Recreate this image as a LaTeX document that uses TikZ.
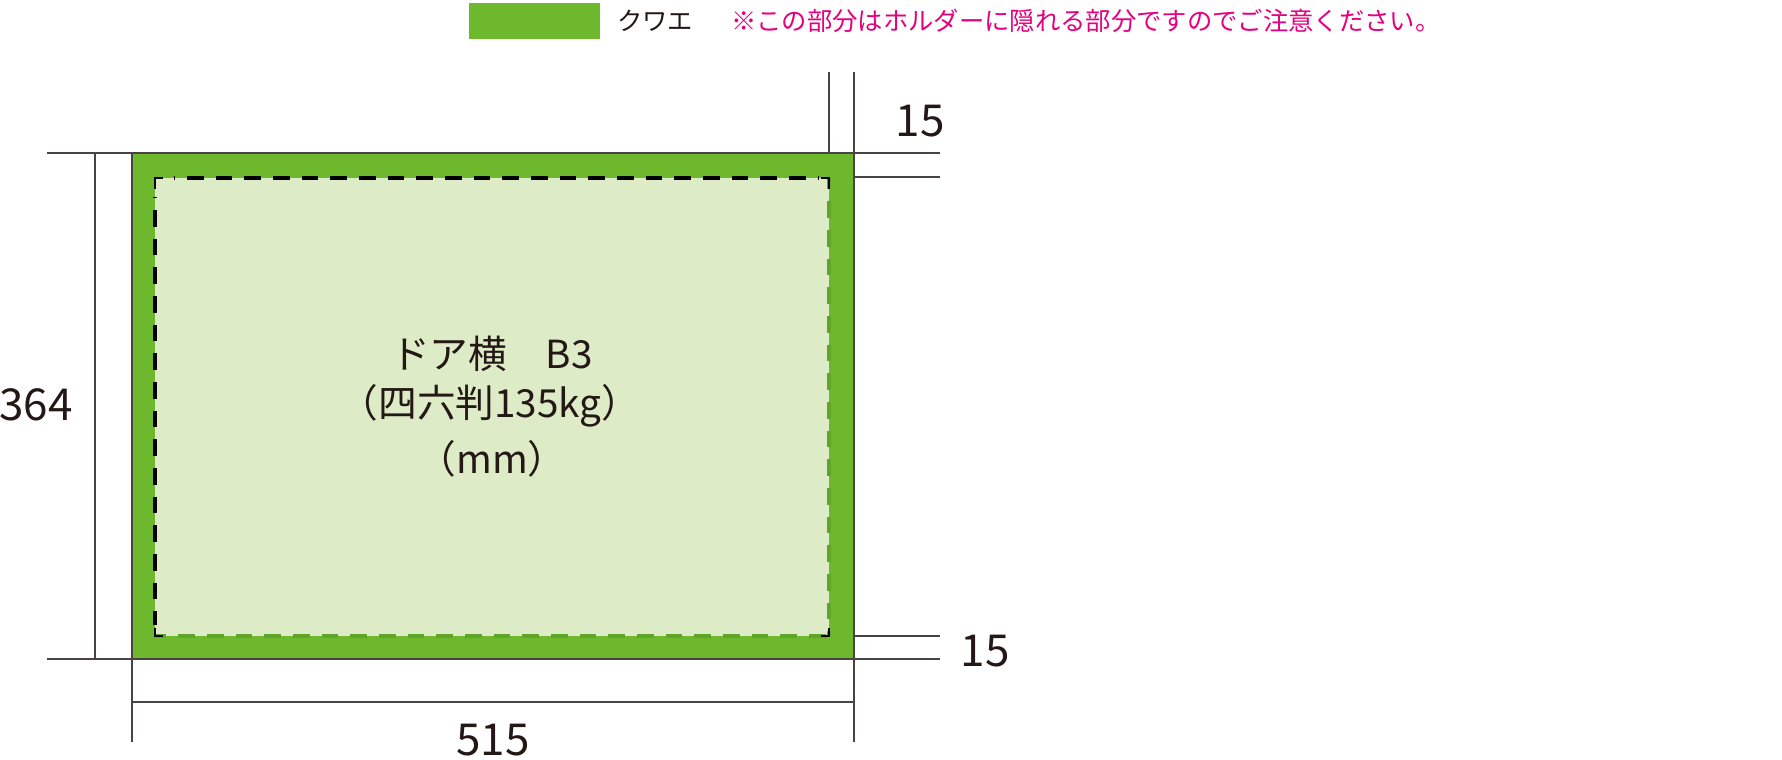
\documentclass[tikz,border=0pt]{standalone}
\usepackage{fontspec}
\setmainfont{Noto Sans CJK JP}
\definecolor{kgreen}{HTML}{6DB82D}
\definecolor{lgreen}{HTML}{DDEBC6}
\definecolor{dgreen}{HTML}{5FA52A}
\definecolor{ink}{HTML}{231815}
\definecolor{lin}{HTML}{4A4344}
\definecolor{pink}{HTML}{E4007F}
\tikzset{
  dimline/.style={draw=lin, line width=1.5pt},
  dimtxt/.style={text=ink, font=\fontsize{33}{33}\selectfont, inner sep=0pt},
  midtxt/.style={text=ink, font=\fontsize{29}{29}\selectfont, inner sep=0pt},
  legtxt/.style={font=\fontsize{19}{19}\selectfont, inner sep=0pt, anchor=west},
  blackdash/.style={draw=black, line width=3.6pt, dash pattern=on 12.5pt off 9pt},
  greendash/.style={draw=dgreen, line width=3pt, dash pattern=on 12.5pt off 9pt},
  cornermark/.style={draw=black, line width=1.6pt}
}
\begin{document}
\begin{tikzpicture}[x=0.75pt, y=-0.75pt]
\useasboundingbox (0,0) rectangle (1782,760);
% legend
\node[fill=kgreen, minimum width=98pt, minimum height=27pt, inner sep=0pt, anchor=north west] (leg) at (469,3) {};
\node[legtxt, text=ink] (legk) at (617,21) {クワエ};
\node[legtxt, text=pink] (note) at (731,21) {※この部分はホルダーに隠れる部分ですのでご注意ください。};
% paper
\coordinate (TL) at (132,153);
\coordinate (BR) at (854,659);
\fill[kgreen] (TL) rectangle (BR);
\coordinate (iTL) at (155,178);
\coordinate (iTR) at (829,178);
\coordinate (iBL) at (155,636);
\coordinate (iBR) at (829,636);
\fill[lgreen] (iTL) rectangle (iBR);
\draw[greendash, dash phase=4pt] (iTR) -- (iBR);
\draw[greendash, dash phase=4pt] (iBL) -- (iBR);
\draw[blackdash, dash phase=-10pt] ([xshift=14pt]iTL) -- ([xshift=-8pt]iTR);
\draw[blackdash, dash phase=-10pt] ([yshift=-14pt]iTL) -- ([yshift=8pt]iBL);
\draw[cornermark] ([yshift=-8pt]iTL) -- (iTL) -- ([xshift=6pt]iTL);
\draw[cornermark] ([xshift=-6pt]iTR) -- (iTR) -- ([yshift=-8pt]iTR);
\draw[cornermark] ([yshift=6pt]iBL) -- (iBL) -- ([xshift=6pt]iBL);
\draw[cornermark] ([xshift=-6pt]iBR) -- (iBR) -- ([yshift=6pt]iBR);
% dimension lines
\coordinate (a1) at (47,153);   \coordinate (a2) at (940,153);
\coordinate (b1) at (854,177);  \coordinate (b2) at (940,177);
\coordinate (c1) at (47,659);   \coordinate (c2) at (940,659);
\coordinate (d1) at (854,636);  \coordinate (d2) at (940,636);
\coordinate (e1) at (95,153);   \coordinate (e2) at (95,659);
\coordinate (f1) at (132,153);  \coordinate (f2) at (132,742);
\coordinate (g1) at (854,72);   \coordinate (g2) at (854,742);
\coordinate (h1) at (829,72);   \coordinate (h2) at (829,153);
\coordinate (k1) at (132,702);  \coordinate (k2) at (854,702);
\draw[dimline] (a1) -- (a2);
\draw[dimline] (b1) -- (b2);
\draw[dimline] (c1) -- (c2);
\draw[dimline] (d1) -- (d2);
\draw[dimline] (e1) -- (e2);
\draw[dimline] (f1) -- (f2);
\draw[dimline] (g1) -- (g2);
\draw[dimline] (h1) -- (h2);
\draw[dimline] (k1) -- (k2);
% labels
\node[dimtxt] (t15) at (920,121) {15};
\node[dimtxt] (b15) at (985,651) {15};
\node[dimtxt] (h364) at (36,405) {364};
\node[dimtxt] (w515) at (493,740) {515};
\node[midtxt] (m1) at (492,354) {ドア横　B3};
\node[midtxt] (m2) at (490,406) {（四六判135kg）};
\node[midtxt] (m3) at (492,459) {（mm）};
\end{tikzpicture}
\end{document}
